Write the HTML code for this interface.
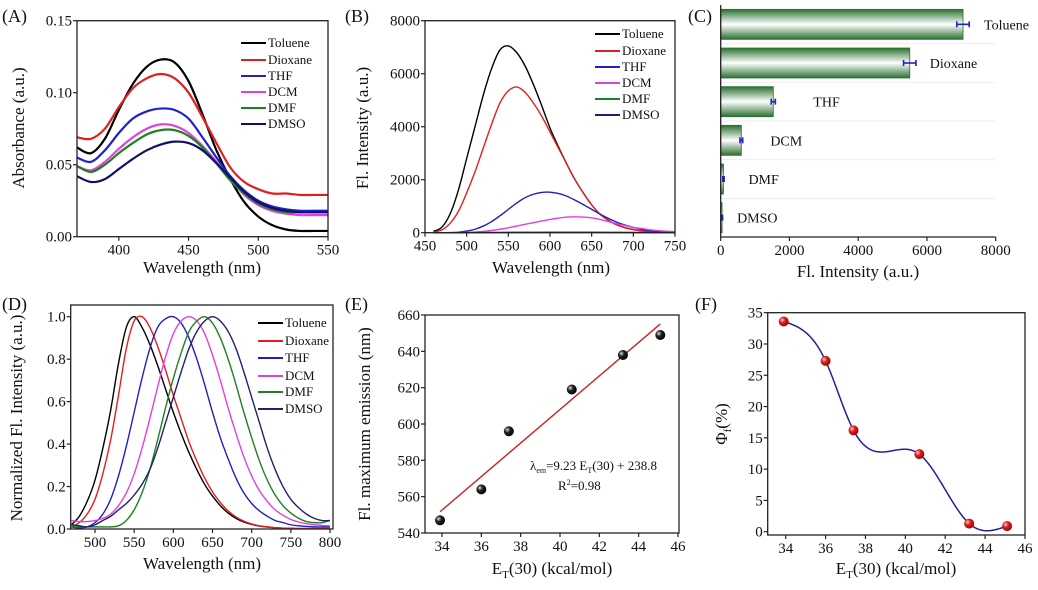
<!DOCTYPE html>
<html><head><meta charset="utf-8"><style>
body{margin:0;background:#fff;}
svg, svg text, svg tspan{font-family:"Liberation Serif","DejaVu Serif",serif;}
</style></head><body>
<svg id="fig" width="1038" height="585" viewBox="0 0 1038 585" font-family="Liberation Serif, serif">
<defs>
<linearGradient id="barg" x1="0" y1="0" x2="0" y2="1">
<stop offset="0" stop-color="#2a7030"/><stop offset="0.5" stop-color="#ffffff"/><stop offset="1" stop-color="#2a7030"/>
</linearGradient>
<radialGradient id="blk" cx="0.35" cy="0.35" r="0.7"><stop offset="0" stop-color="#ddd"/><stop offset="0.4" stop-color="#222"/><stop offset="1" stop-color="#000"/></radialGradient>
<radialGradient id="red" cx="0.35" cy="0.35" r="0.7"><stop offset="0" stop-color="#ffd0d0"/><stop offset="0.4" stop-color="#e02020"/><stop offset="1" stop-color="#900"/></radialGradient>
</defs>
</svg>
<script>
// ---------- Panel A data ----------
const aX=[370,380,390,400,410,420,430,440,450,460,470,480,490,500,510,520,530,540,550];
const aToluene=[0.062,0.058,0.068,0.088,0.106,0.118,0.123,0.121,0.108,0.085,0.060,0.040,0.024,0.014,0.008,0.005,0.004,0.004,0.004];
const aDioxane=[0.069,0.068,0.075,0.090,0.103,0.110,0.113,0.110,0.100,0.083,0.065,0.048,0.038,0.033,0.030,0.030,0.029,0.029,0.029];
const aTHF=[0.055,0.052,0.060,0.072,0.082,0.087,0.089,0.088,0.082,0.069,0.055,0.042,0.032,0.025,0.021,0.019,0.018,0.018,0.018];
const aDCM=[0.049,0.046,0.052,0.061,0.069,0.075,0.078,0.077,0.072,0.063,0.052,0.040,0.029,0.022,0.018,0.016,0.015,0.015,0.015];
const aDMF=[0.049,0.045,0.050,0.058,0.065,0.071,0.074,0.074,0.070,0.062,0.051,0.039,0.030,0.023,0.019,0.017,0.017,0.017,0.017];
const aDMSO=[0.042,0.038,0.040,0.047,0.054,0.060,0.064,0.066,0.065,0.060,0.051,0.041,0.031,0.024,0.020,0.018,0.017,0.017,0.017];
const aXTicks=[400,450,500,550];
const aYTicks=[0,0.05,0.10,0.15];
const aYLabels=["0.00","0.05","0.10","0.15"];
// ---------- Panel B data ----------
const bX=[460,470,480,490,500,510,520,530,540,550,560,570,580,590,600,610,620,630,640,650,660,670,680,690,700,710,720,730,740,750];
const bToluene=[50,200,700,1600,2800,4000,5200,6200,6900,7050,6800,6300,5600,4800,3950,3250,2600,2000,1500,1050,700,470,300,190,120,75,45,30,20,10];
const bDioxane=[20,100,350,800,1500,2300,3200,4100,4900,5350,5500,5300,4900,4400,3800,3200,2600,2000,1500,1050,700,470,300,190,120,75,45,30,20,10];
const bTHF=[0,0,5,20,60,130,250,420,640,880,1120,1320,1450,1520,1530,1480,1380,1230,1060,880,700,540,400,290,200,130,80,50,30,20];
const bDCM=[0,0,0,5,10,25,50,85,130,185,250,315,380,440,500,550,590,600,590,560,500,420,340,270,200,160,110,80,55,40];
const bDMF=[0,0,0,0,5,5,5,10,10,10,15,15,15,15,20,20,20,20,20,20,15,15,15,10,10,10,5,5,5,5];
const bDMSO=[0,0,0,0,5,5,5,5,5,10,10,10,10,10,10,10,10,10,10,10,10,5,5,5,5,5,5,5,5,5];
const bXTicks=[450,500,550,600,650,700,750];
const bYTicks=[0,2000,4000,6000,8000];
// ---------- Panel C data ----------
const cCategories=["Toluene","Dioxane","THF","DCM","DMF","DMSO"];
const cValues=[7050,5500,1530,600,80,40];
const cErrors=[180,180,60,40,20,15];
const cXTicks=[0,2000,4000,6000,8000];
const cLabelGap=[21,20,40,29,25,15];
// ---------- Panel D data ----------
const dX=[470,480,490,500,510,520,530,540,550,560,570,580,590,600,610,620,630,640,650,660,670,680,690,700,710,720,730,740,750,760,770,780,790,800];
const dToluene=[0.02,0.06,0.13,0.23,0.38,0.56,0.78,0.95,1.0,0.95,0.87,0.77,0.66,0.55,0.45,0.36,0.28,0.21,0.155,0.11,0.075,0.05,0.033,0.022,0.014,0.009,0.006,0.004,0.003,0.002,0.002,0.002,0.002,0.002];
const dDioxane=[0.01,0.03,0.07,0.14,0.26,0.42,0.63,0.85,0.98,1.0,0.95,0.86,0.75,0.63,0.52,0.41,0.32,0.24,0.175,0.125,0.085,0.057,0.037,0.024,0.015,0.01,0.006,0.004,0.003,0.002,0.002,0.002,0.002,0.002];
const dTHF=[0.01,0.005,0.01,0.03,0.07,0.14,0.25,0.39,0.55,0.71,0.85,0.95,0.99,1.0,0.97,0.9,0.8,0.68,0.55,0.43,0.33,0.24,0.17,0.12,0.085,0.06,0.04,0.03,0.02,0.015,0.012,0.01,0.01,0.01];
const dDCM=[0.04,0.035,0.035,0.04,0.05,0.07,0.11,0.17,0.26,0.38,0.52,0.67,0.81,0.92,0.98,1.0,0.98,0.92,0.82,0.7,0.57,0.45,0.34,0.25,0.18,0.13,0.09,0.065,0.045,0.033,0.025,0.02,0.017,0.015];
const dDMF=[0.01,0.01,0.01,0.01,0.01,0.01,0.015,0.04,0.09,0.17,0.28,0.42,0.57,0.71,0.83,0.93,0.98,1.0,0.97,0.9,0.8,0.68,0.55,0.43,0.32,0.23,0.16,0.11,0.075,0.05,0.035,0.03,0.03,0.04];
const dDMSO=[0.02,0.015,0.01,0.02,0.04,0.06,0.09,0.12,0.16,0.21,0.28,0.38,0.5,0.62,0.74,0.85,0.93,0.98,1.0,0.98,0.93,0.85,0.74,0.62,0.5,0.38,0.28,0.2,0.14,0.1,0.07,0.05,0.04,0.04];
const dXTicks=[500,550,600,650,700,750,800];
const dYTicks=[0,0.2,0.4,0.6,0.8,1.0];
const dYLabels=["0.0","0.2","0.4","0.6","0.8","1.0"];
// ---------- Panel E data ----------
const eX=[33.9,36.0,37.4,40.6,43.2,45.1];
const eY=[547,564,596,619,638,649];
const eSlope=9.23, eIntercept=238.8;
const eXTicks=[34,36,38,40,42,44,46];
const eYTicks=[540,560,580,600,620,640,660];
// ---------- Panel F data ----------
const fX=[33.9,36.0,37.4,40.7,43.2,45.1];
const fY=[33.6,27.3,16.2,12.4,1.3,0.9];
const fXTicks=[34,36,38,40,42,44,46];
const fYTicks=[0,5,10,15,20,25,30,35];
const legendNames=["Toluene","Dioxane","THF","DCM","DMF","DMSO"];

const svg=document.getElementById('fig');
const NS='http://www.w3.org/2000/svg';
const FONT='"Liberation Serif", serif';
function mk(tag,attrs,parent){const e=document.createElementNS(NS,tag);for(const k in attrs)e.setAttribute(k,attrs[k]);(parent||svg).appendChild(e);return e;}
function txt(s,x,y,size,anchor,parent){const t=mk('text',{x:x,y:y,'font-size':size,'text-anchor':anchor||'middle',fill:'#111','font-family':FONT},parent);t.textContent=s;return t;}
function lin(d0,d1,r0,r1){return v=>r0+(v-d0)/(d1-d0)*(r1-r0);}
function smoothPath(pts){let d='M'+pts[0][0].toFixed(2)+','+pts[0][1].toFixed(2);
 for(let i=0;i<pts.length-1;i++){const p0=pts[i-1]||pts[i],p1=pts[i],p2=pts[i+1],p3=pts[i+2]||p2;
  const c1=[p1[0]+(p2[0]-p0[0])/6,p1[1]+(p2[1]-p0[1])/6],c2=[p2[0]-(p3[0]-p1[0])/6,p2[1]-(p3[1]-p1[1])/6];
  d+='C'+c1[0].toFixed(2)+','+c1[1].toFixed(2)+' '+c2[0].toFixed(2)+','+c2[1].toFixed(2)+' '+p2[0].toFixed(2)+','+p2[1].toFixed(2);}
 return d;}
function frame(g,x0,y0,x1,y1,box){
 if(box){const r=mk('rect',{x:x0,y:y0,width:x1-x0,height:y1-y0,fill:'none',stroke:'#222','stroke-width':1.3},g);}
 else{mk('line',{x1:x0,y1:y0,x2:x0,y2:y1,stroke:'#222','stroke-width':1.3},g);mk('line',{x1:x0,y1:y1,x2:x1,y2:y1,stroke:'#222','stroke-width':1.3},g);}
}
function xTicks(g,ticks,sx,y,labels){const ax=mk('g',{},g);
 ticks.forEach((t,i)=>{mk('line',{x1:sx(t),y1:y,x2:sx(t),y2:y+4,stroke:'#222','stroke-width':1.2},ax);txt(labels?labels[i]:String(t),sx(t),y+18,15,'middle',ax);});}
function yTicks(g,ticks,sy,x,labels){const ax=mk('g',{},g);
 ticks.forEach((t,i)=>{mk('line',{x1:x,y1:sy(t),x2:x-4,y2:sy(t),stroke:'#222','stroke-width':1.2},ax);txt(labels?labels[i]:String(t),x-5,sy(t)+5,15,'end',ax);});}
function yTitle(g,s,x,y){const t=txt(s,x,y,17,'middle',g);t.setAttribute('transform','rotate(-90 '+x+' '+y+')');return t;}
function xTitle(g,s,x,y){const t=txt(s,x,y,17,'middle',g);return t;}
function panelLabel(s,x,y){const t=txt(s,x,y,18,'start');}
function legend(g,x,ys,colors){const lg=mk('g',{},g);
 legendNames.forEach((n,i)=>{const e=mk('g',{},lg);
 mk('line',{x1:x,y1:ys[i],x2:x+25,y2:ys[i],stroke:colors[i],'stroke-width':2},e);txt(n,x+27,ys[i]+4,13,'start',e);});}
function series(g,xs,ys,sx,sy,color,name,w){const pts=xs.map((x,i)=>[sx(x),sy(ys[i])]);const p=mk('path',{d:smoothPath(pts),fill:'none',stroke:color,'stroke-width':w||1.5},g);}
function richText(g,x,y,size,anchor,html,rot){const t=mk('text',{x:x,y:y,'font-size':size,'text-anchor':anchor,fill:'#111','font-family':FONT},g);if(rot)t.setAttribute('transform',rot);t.innerHTML=html;return t;}

// ---------- Panel A ----------
(function(){const g=mk('g',{});
 const sx=lin(370,550,77,328),sy=lin(0,0.15,236.7,20.7);
 const cols=['#000','#e02020','#2020d0','#e040e0','#208020','#10106a'];
 [aToluene,aDioxane,aTHF,aDCM,aDMF,aDMSO].forEach((s,i)=>series(g,aX,s,sx,sy,cols[i],'line-'+legendNames[i].toLowerCase(),2.2));
 frame(g,77,20.7,328,236.7,true);xTicks(g,aXTicks,sx,236.7);yTicks(g,aYTicks,sy,77,aYLabels);
 legend(g,241,[43,60,76,92,108,124],cols);yTitle(g,'Absorbance (a.u.)',24,128);xTitle(g,'Wavelength (nm)',202,273);})();
panelLabel('(A)',2,22);
// ---------- Panel B ----------
(function(){const g=mk('g',{});
 const sx=lin(450,750,425,675),sy=lin(0,8000,232.7,20.7);
 const cols=['#000','#e02020','#2020c0','#e040e0','#208020','#202070'];
 [bToluene,bDioxane,bTHF,bDCM,bDMF,bDMSO].forEach((s,i)=>series(g,bX,s,sx,sy,cols[i],'line-'+legendNames[i].toLowerCase(),1.4));
 frame(g,425,20.7,675,232.7,true);xTicks(g,bXTicks,sx,232.7);yTicks(g,bYTicks,sy,425);
 legend(g,595,[34,51,67,83,99,115],cols);yTitle(g,'Fl. Intensity (a.u.)',368,128);xTitle(g,'Wavelength (nm)',551,273);})();
panelLabel('(B)',345,22);
// ---------- Panel C ----------
(function(){const g=mk('g',{});
 const sx=lin(0,8000,720.7,995.7);const top=5,bottom=237,band=(bottom-top)/cCategories.length;
 for(let i=1;i<cCategories.length;i++){mk('line',{x1:721,y1:top+band*i,x2:995,y2:top+band*i,stroke:'#eee','stroke-width':1},g);}
 cCategories.forEach((c,i)=>{const cy=top+band*(i+0.5);const b=mk('rect',{x:sx(0),y:cy-15,width:sx(cValues[i])-sx(0),height:30,fill:'url(#barg)',stroke:'#2a7030','stroke-width':0.8},g);
  
  const e=mk('g',{stroke:'#2020c0','stroke-width':1.6},g);
  const xl=sx(cValues[i]-cErrors[i]),xr=sx(cValues[i]+cErrors[i]);
  mk('line',{x1:xl,y1:cy,x2:xr,y2:cy},e);mk('line',{x1:xl,y1:cy-3,x2:xl,y2:cy+3},e);mk('line',{x1:xr,y1:cy-3,x2:xr,y2:cy+3},e);
  const t=txt(c,sx(cValues[i])+cLabelGap[i],cy+5,14,'start',g);});
 frame(g,720.7,top,995.7,bottom,false);xTicks(g,cXTicks,sx,bottom);xTitle(g,'Fl. Intensity (a.u.)',858,277);})();
panelLabel('(C)',688,22);
// ---------- Panel D ----------
(function(){const g=mk('g',{});
 const sx=lin(500,800,95,330),sy=lin(0,1,529,316.7);
 const cols=['#000','#e02020','#2020c0','#e040e0','#208020','#202070'];
 [dToluene,dDioxane,dTHF,dDCM,dDMF,dDMSO].forEach((s,i)=>series(g,dX,s,sx,sy,cols[i],'line-'+legendNames[i].toLowerCase(),1.4));
 frame(g,70.7,305,333,529,true);xTicks(g,dXTicks,sx,529);yTicks(g,dYTicks,sy,70.7,dYLabels);
 legend(g,258,[323,341,358,376,392,409],cols);yTitle(g,'Normalized Fl. Intensity (a.u.)',22,418);xTitle(g,'Wavelength (nm)',202,569);})();
panelLabel('(D)',2,310);
// ---------- Panel E ----------
(function(){const g=mk('g',{});
 const sx=lin(34,46,442,678),sy=lin(540,660,533,315);
 const x0=eX[0],x1=eX[eX.length-1];const fl=mk('line',{x1:sx(x0),y1:sy(eSlope*x0+eIntercept),x2:sx(x1),y2:sy(eSlope*x1+eIntercept),stroke:'#d02020','stroke-width':1.4},g);
 
 eX.forEach((x,i)=>{const c=mk('circle',{cx:sx(x),cy:sy(eY[i]),r:5,fill:'url(#blk)'},g);});
 frame(g,425,315,679,533,true);xTicks(g,eXTicks,sx,533);yTicks(g,eYTicks,sy,425);
 const eq=richText(g,530,470,13,'start','λ<tspan font-size="8" dy="3">em</tspan><tspan dy="-3">=9.23 E</tspan><tspan font-size="8" dy="3">T</tspan><tspan dy="-3">(30) + 238.8</tspan>');
 
 const r2=richText(g,558,490,13,'start','R<tspan font-size="8" dy="-5">2</tspan><tspan dy="5">=0.98</tspan>');
 
 yTitle(g,'Fl. maximum emission (nm)',370,424);
 const xt=richText(g,552,574,17,'middle','E<tspan font-size="11" dy="4">T</tspan><tspan dy="-4">(30) (kcal/mol)</tspan>');
 })();
panelLabel('(E)',345,310);
// ---------- Panel F ----------
(function(){const g=mk('g',{});
 const sx=lin(34,46,785.7,1025),sy=lin(0,35,531.7,312.7);
 const n=fX.length,h=[],al=[],l=[1],mu=[0],z=[0],c=new Array(n).fill(0),b=[],d=[];
 for(let i=0;i<n-1;i++)h.push(fX[i+1]-fX[i]);
 for(let i=1;i<n-1;i++)al[i]=3/h[i]*(fY[i+1]-fY[i])-3/h[i-1]*(fY[i]-fY[i-1]);
 for(let i=1;i<n-1;i++){l[i]=2*(fX[i+1]-fX[i-1])-h[i-1]*mu[i-1];mu[i]=h[i]/l[i];z[i]=(al[i]-h[i-1]*z[i-1])/l[i];}
 for(let j=n-2;j>=0;j--){c[j]=(j>0?z[j]:0)-(j>0?mu[j]:0)*c[j+1];b[j]=(fY[j+1]-fY[j])/h[j]-h[j]*(c[j+1]+2*c[j])/3;d[j]=(c[j+1]-c[j])/(3*h[j]);}
 let dstr='';for(let j=0;j<n-1;j++){for(let k=0;k<=20;k++){const t=h[j]*k/20;const y=fY[j]+b[j]*t+c[j]*t*t+d[j]*t*t*t;dstr+=(dstr?'L':'M')+sx(fX[j]+t).toFixed(2)+','+sy(y).toFixed(2);}}
 const p=mk('path',{d:dstr,fill:'none',stroke:'#2020a0','stroke-width':1.5},g);
 fX.forEach((x,i)=>{const cc=mk('circle',{cx:sx(x),cy:sy(fY[i]),r:5,fill:'url(#red)'},g);});
 frame(g,767.7,312.7,1025,535,true);xTicks(g,fXTicks,sx,535);yTicks(g,fYTicks,sy,767.7);
 const yt=richText(g,727,424,17,'middle','Φ<tspan font-size="11" dy="4">f</tspan><tspan dy="-4">(%)</tspan>','rotate(-90 727 424)');
 
 const xt=richText(g,896,574,17,'middle','E<tspan font-size="11" dy="4">T</tspan><tspan dy="-4">(30) (kcal/mol)</tspan>');
 })();
panelLabel('(F)',695,310);
</script>
</body></html>
